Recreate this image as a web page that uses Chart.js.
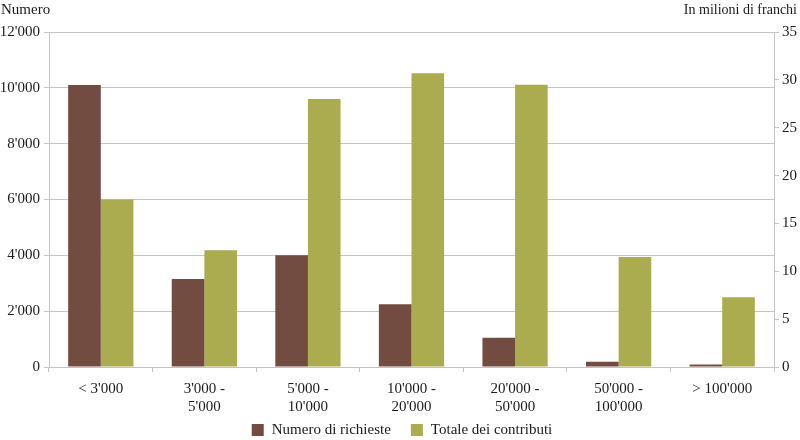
<!DOCTYPE html>
<html><head><meta charset="utf-8">
<script src="https://cdn.jsdelivr.net/npm/chart.js@4/dist/chart.umd.min.js"></script>
<style>html,body{margin:0;padding:0;background:#fff}#wrap{width:800px;height:440px}</style>
</head><body><div id="wrap"><canvas id="c" width="800" height="440"></canvas></div>
<script>
const categories = [["< 3'000"], ["3'000 -", "5'000"], ["5'000 -", "10'000"], ["10'000 -", "20'000"], ["20'000 -", "50'000"], ["50'000 -", "100'000"], ["> 100'000"]];
const numeroRichieste = [10100, 3150, 4000, 2250, 1050, 190, 90];
const totaleContributi = [17.5, 12.2, 28.0, 30.7, 29.5, 11.5, 7.3];
const seriesNames = ["Numero di richieste", "Totale dei contributi"];
const leftAxisTitle = "Numero";
const rightAxisTitle = "In milioni di franchi";

const FONT = "'Liberation Serif', 'DejaVu Serif', serif";
const TXT = '#1a1a1a';
const GRID = '#c4c4c4';
function fmt(v){ return String(v).replace(/\B(?=(\d{3})+(?!\d))/g, "'"); }

const titlesAndLegend = {
  id: 'titlesAndLegend',
  afterDraw(chart){
    const ctx = chart.ctx;
    ctx.save();
    ctx.fillStyle = TXT;
    ctx.textBaseline = 'middle';
    ctx.font = "15px " + FONT;
    ctx.textAlign = 'left';
    ctx.fillText(leftAxisTitle, 1, 10);
    ctx.font = "14px " + FONT;
    ctx.textAlign = 'right';
    ctx.fillText(rightAxisTitle, 797, 10);
    // legend
    ctx.font = "15px " + FONT;
    ctx.textAlign = 'left';
    const box = 12, gapText = 8, gapItem = 20, yc = 430;
    const ds = chart.data.datasets;
    let total = 0;
    ds.forEach((d, i) => { total += box + gapText + ctx.measureText(d.label).width + (i < ds.length - 1 ? gapItem : 0); });
    let x = 402 - total / 2;
    ds.forEach(d => {
      ctx.fillStyle = d.backgroundColor;
      ctx.fillRect(x, yc - box / 2, box, box);
      x += box + gapText;
      ctx.fillStyle = TXT;
      ctx.fillText(d.label, x, yc);
      x += ctx.measureText(d.label).width + gapItem;
    });
    ctx.restore();
  }
};

new Chart(document.getElementById('c'), {
  type: 'bar',
  data: {
    labels: categories,
    datasets: [
      { label: seriesNames[0], data: numeroRichieste, backgroundColor: '#724c40', yAxisID: 'y', categoryPercentage: 0.63, barPercentage: 1.0 },
      { label: seriesNames[1], data: totaleContributi, backgroundColor: '#abab4f', yAxisID: 'y1', categoryPercentage: 0.63, barPercentage: 1.0 }
    ]
  },
  options: {
    responsive: false,
    animation: false,
    layout: { padding: { top: 32, left: 0, right: 0, bottom: 0 } },
    plugins: {
      tooltip: { enabled: false },
      legend: { display: false }
    },
    scales: {
      x: {
        grid: { display: true, drawOnChartArea: false, drawTicks: true, tickLength: 5, color: GRID, offset: true },
        border: { display: true, color: GRID },
        ticks: { color: TXT, font: { family: FONT, size: 15 }, padding: 8, maxRotation: 0, autoSkip: false },
        afterFit(s){ s.height = 73; }
      },
      y: {
        position: 'left',
        min: 0, max: 12000,
        ticks: { stepSize: 2000, color: TXT, font: { family: FONT, size: 15 }, padding: 4, callback: v => fmt(v) },
        grid: { color: GRID, tickLength: 5 },
        border: { display: true, color: GRID },
        afterFit(s){ s.width = 49; }
      },
      y1: {
        position: 'right',
        min: 0, max: 35,
        ticks: { stepSize: 5, color: TXT, font: { family: FONT, size: 15 }, padding: 3 },
        grid: { drawOnChartArea: false, color: GRID, tickLength: 5 },
        border: { display: true, color: GRID },
        afterFit(s){ s.width = 26; }
      }
    }
  },
  plugins: [titlesAndLegend]
});
</script></body></html>
